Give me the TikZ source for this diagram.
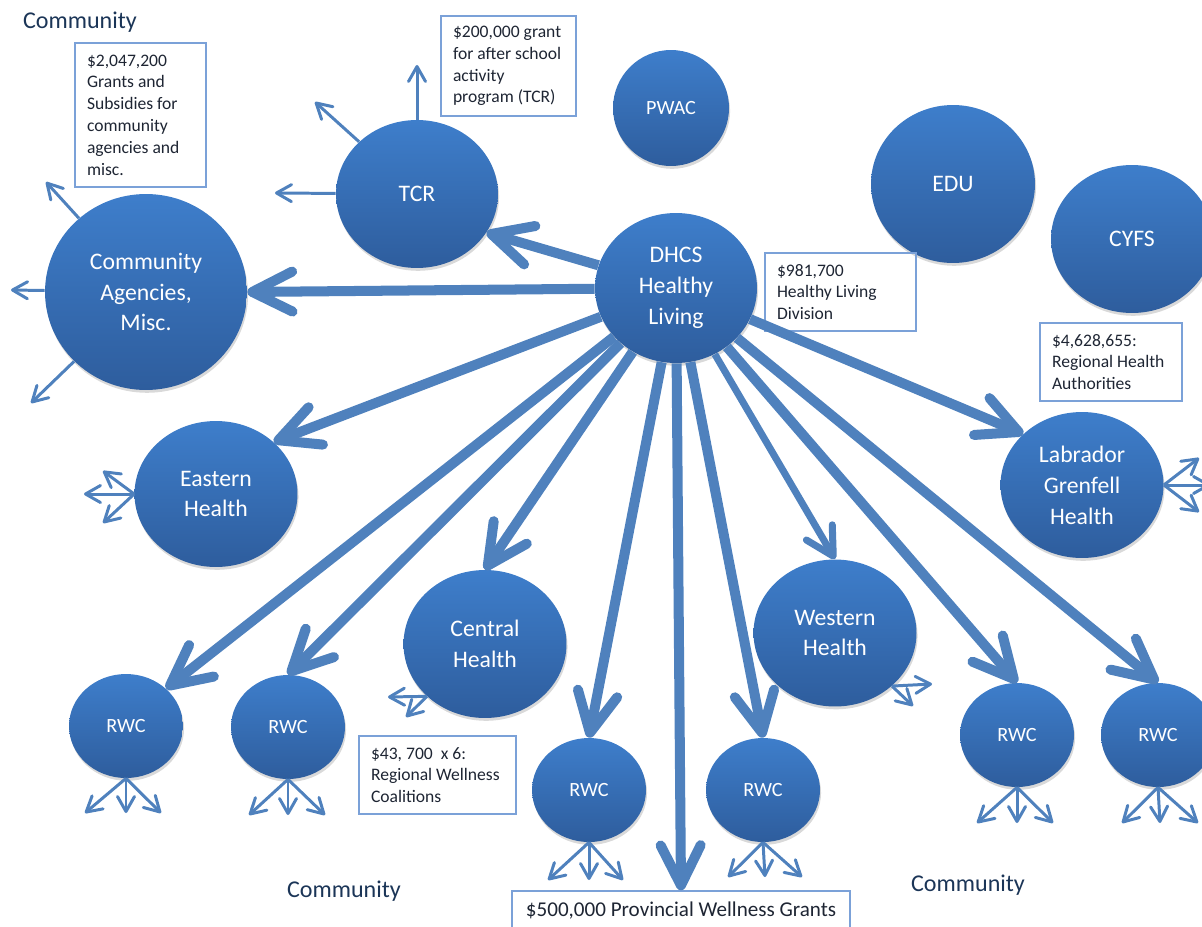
\documentclass[tikz,border=0pt]{standalone}
\usepackage{fontspec}
\setmainfont{Carlito}
\usetikzlibrary{shapes.geometric,arrows.meta,shadows}
\definecolor{circtop}{HTML}{3E7ECB}
\definecolor{circbot}{HTML}{2E5D9D}
\definecolor{flow}{HTML}{4F81BD}
\definecolor{boxline}{HTML}{7BA1D8}
\definecolor{boxtext}{HTML}{1E2533}
\definecolor{commtext}{HTML}{1B3557}
\begin{document}
\begin{tikzpicture}[x=0.02cm, y=-0.02cm,
  org/.style={ellipse, inner sep=0pt, top color=circtop, bottom color=circbot, text=white, align=center,
    font=\fontsize{13.5}{17.6}\selectfont, drop shadow={shadow xshift=0.6pt, shadow yshift=-1.6pt, opacity=0.3}},
  rwc/.style={org, minimum width=2.28cm, minimum height=2.08cm, font=\fontsize{11.5}{14}\selectfont},
  infobox/.style={draw=boxline, line width=0.8pt, text=boxtext, align=flush left, inner xsep=0.24cm,
    font=\fontsize{10}{12.4}\selectfont},
  commlabel/.style={text=commtext, font=\fontsize{13.7}{16}\selectfont},
  bigflow/.style={draw=flow, line width=5.7pt, -{Straight Barb[length=0.8cm, width=0.8cm, round]}},
  midflow/.style={draw=flow, line width=4pt, -{Straight Barb[length=0.55cm, width=0.6cm, round]}},
  smallflow/.style={draw=flow, line width=1.7pt, -{Straight Barb[length=0.3cm, width=0.34cm, round]}}]
\useasboundingbox (0,0) rectangle (1202,926);

\node[org, minimum width=4.04cm, minimum height=3.92cm] (agency) at (146,292) {Community\\Agencies,\\Misc.};
\node[org, minimum width=3.24cm, minimum height=2.96cm] (tcr) at (417,194) {TCR};
\node[org, minimum width=2.32cm, minimum height=2.32cm, font=\fontsize{11.5}{14}\selectfont] (pwac) at (671,108) {PWAC};
\node[org, minimum width=3.28cm, minimum height=3.16cm] (edu) at (953,184) {EDU};
\node[org, minimum width=3.24cm, minimum height=2.96cm] (cyfs) at (1132,239) {CYFS};
\node[org, minimum width=3.24cm, minimum height=3.0cm] (dhcs) at (676,288) {DHCS\\Healthy\\Living};
\node[org, minimum width=3.26cm, minimum height=2.92cm] (eastern) at (216,494) {Eastern\\Health};
\node[org, minimum width=3.26cm, minimum height=2.96cm] (central) at (485,644) {Central\\Health};
\node[org, minimum width=3.26cm, minimum height=2.94cm] (western) at (835,633) {Western\\Health};
\node[org, minimum width=3.26cm, minimum height=2.92cm] (labrador) at (1082,485) {Labrador\\Grenfell\\Health};
\node[rwc] (rwca) at (126,726) {RWC};
\node[rwc] (rwcb) at (288,727) {RWC};
\node[rwc] (rwcc) at (589,790) {RWC};
\node[rwc] (rwcd) at (763,790) {RWC};
\node[rwc] (rwce) at (1017,735) {RWC};
\node[rwc] (rwcf) at (1158,735) {RWC};

\node[infobox, text width=2.14cm, minimum height=2.88cm] (boxagency) at (140.5,115) {\$2,047,200\\Grants and\\Subsidies for\\community\\agencies and\\misc.};
\node[infobox, text width=2.22cm, minimum height=2cm] (boxtcr) at (508.5,66) {\$200,000 grant\\for after school\\activity\\program (TCR)};
\node[infobox, text width=2.54cm, minimum height=1.56cm] (boxdhcs) at (840.5,292) {\$981,700\\Healthy Living\\Division};
\node[infobox, text width=2.36cm, minimum height=1.56cm] (boxrha) at (1111,362) {\$4,628,655:\\Regional Health\\Authorities};
\node[infobox, text width=2.66cm, minimum height=1.56cm] (boxrwc) at (437.5,775) {\$43, 700\ \ x 6:\\Regional Wellness\\Coalitions};
\node[infobox, align=center, minimum width=6.76cm, minimum height=0.8cm, font=\fontsize{12}{14}\selectfont] (grants) at (681,911) {\$500,000 Provincial Wellness Grants};

\node[commlabel] (commtl) at (80,22) {Community};
\node[commlabel] (commbl) at (344,891) {Community};
\node[commlabel] (commbr) at (968,885) {Community};

\draw[bigflow] (dhcs) -- (agency.east);
\draw[bigflow] (dhcs) -- (tcr.-29);
\draw[bigflow] (dhcs) -- (eastern.42);
\draw[bigflow] (dhcs) -- (rwca.43);
\draw[bigflow] (dhcs) -- (rwcb.north);
\draw[bigflow] (dhcs) -- (central.north);
\draw[bigflow] (dhcs) -- (rwcc.north);
\draw[bigflow] (dhcs) -- (grants.north);
\draw[bigflow] (dhcs) -- (rwcd.north);
\draw[midflow] (dhcs) -- (western.north);
\draw[bigflow] (dhcs) -- (rwce.north);
\draw[bigflow] (dhcs) -- (rwcf.north);
\draw[bigflow] (dhcs) -- (labrador.139);

\coordinate (agency1) at (46,182); \coordinate (agency2) at (11,290); \coordinate (agency3) at (31,403);
\draw[smallflow] (agency) -- (agency1);
\draw[smallflow] (agency) -- (agency2);
\draw[smallflow] (agency) -- (agency3);
\coordinate (tcr1) at (417,65); \coordinate (tcr2) at (315,102); \coordinate (tcr3) at (275,193);
\draw[smallflow] (tcr) -- (tcr1);
\draw[smallflow] (tcr) -- (tcr2);
\draw[smallflow] (tcr) -- (tcr3);
\coordinate (eastern1) at (84,494); \coordinate (eastern2) at (103,471); \coordinate (eastern3) at (103,523);
\draw[smallflow] (eastern.west) -- (eastern1);
\draw[smallflow] (eastern.west) -- (eastern2);
\draw[smallflow] (eastern.west) -- (eastern3);
\coordinate (central1) at (388,697); \coordinate (central2) at (406,717);
\draw[smallflow] (central.222) -- (central1);
\draw[smallflow] (central.222) -- (central2);
\coordinate (western1) at (932,684); \coordinate (western2) at (913,706);
\draw[smallflow] (western.-43) -- (western1);
\draw[smallflow] (western.-43) -- (western2);
\coordinate (labrador1) at (1199,458); \coordinate (labrador2) at (1210,485); \coordinate (labrador3) at (1199,512);
\draw[smallflow] (labrador.east) -- (labrador1);
\draw[smallflow] (labrador.east) -- (labrador2);
\draw[smallflow] (labrador.east) -- (labrador3);

\coordinate (rwca1) at (85,813); \coordinate (rwca2) at (126,813); \coordinate (rwca3) at (161,813);
\draw[smallflow] (rwca.south) -- (rwca1);
\draw[smallflow] (rwca.south) -- (rwca2);
\draw[smallflow] (rwca.south) -- (rwca3);
\coordinate (rwcb1) at (249,815); \coordinate (rwcb2) at (288,815); \coordinate (rwcb3) at (325,815);
\draw[smallflow] (rwcb.south) -- (rwcb1);
\draw[smallflow] (rwcb.south) -- (rwcb2);
\draw[smallflow] (rwcb.south) -- (rwcb3);
\coordinate (rwcc1) at (548,880); \coordinate (rwcc2) at (589,880); \coordinate (rwcc3) at (623,880);
\draw[smallflow] (rwcc.south) -- (rwcc1);
\draw[smallflow] (rwcc.south) -- (rwcc2);
\draw[smallflow] (rwcc.south) -- (rwcc3);
\coordinate (rwcd1) at (728,877); \coordinate (rwcd2) at (765,877); \coordinate (rwcd3) at (802,877);
\draw[smallflow] (rwcd.south) -- (rwcd1);
\draw[smallflow] (rwcd.south) -- (rwcd2);
\draw[smallflow] (rwcd.south) -- (rwcd3);
\coordinate (rwce1) at (977,823); \coordinate (rwce2) at (1017,823); \coordinate (rwce3) at (1053,823);
\draw[smallflow] (rwce.south) -- (rwce1);
\draw[smallflow] (rwce.south) -- (rwce2);
\draw[smallflow] (rwce.south) -- (rwce3);
\coordinate (rwcf1) at (1122,823); \coordinate (rwcf2) at (1160,823); \coordinate (rwcf3) at (1198,823);
\draw[smallflow] (rwcf.south) -- (rwcf1);
\draw[smallflow] (rwcf.south) -- (rwcf2);
\draw[smallflow] (rwcf.south) -- (rwcf3);

\end{tikzpicture}
\end{document}
